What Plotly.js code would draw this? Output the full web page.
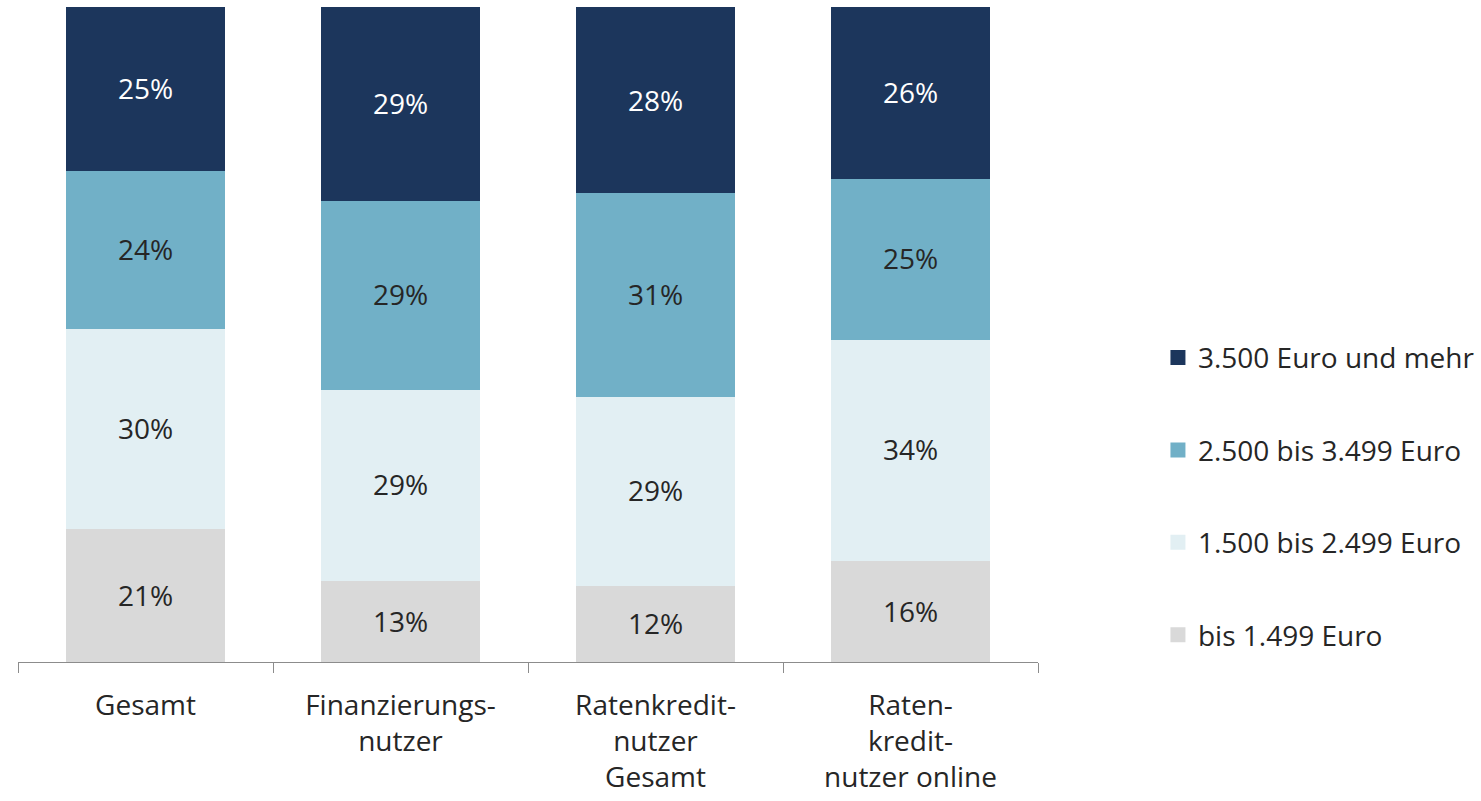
<!DOCTYPE html>
<html><head><meta charset="utf-8">
<script src="https://cdn.plot.ly/plotly-3.0.1.min.js"></script>
<style>html,body{margin:0;padding:0;background:#fff;}#chart{width:1481px;height:801px;}</style>
</head><body><div id="chart"></div>
<script>
const categories = ["Gesamt", "Finanzierungs-<br>nutzer", "Ratenkredit-<br>nutzer<br>Gesamt", "Raten-<br>kredit-<br>nutzer online"];
const seriesNames = ["bis 1.499 Euro", "1.500 bis 2.499 Euro", "2.500 bis 3.499 Euro", "3.500 Euro und mehr"];
const bis1499 = [20.6, 12.6, 11.8, 15.7];
const bis2499 = [30.4, 29.1, 28.9, 33.7];
const bis3499 = [24.2, 28.9, 31.1, 24.6];
const ab3500  = [24.8, 29.4, 28.1, 26.0];
const series = [bis1499, bis2499, bis3499, ab3500];
const colors = ["#d9d9d9", "#e2eff3", "#71b0c7", "#1c365c"];
const textColors = ["#262626", "#262626", "#262626", "#ffffff"];
const FONT = "Open Sans, sans-serif";
const FS = 28;

const traces = series.map((vals, i) => ({
  type: "bar",
  name: seriesNames[i],
  x: categories,
  y: vals,
  marker: {color: colors[i], line: {width: 3, color: colors[i]}},
  texttemplate: "%{y:.0f}%",
  textposition: "inside",
  insidetextanchor: "middle",
  textangle: 0,
  textfont: {family: FONT, size: FS, color: textColors[i]},
  legendgroup: "g" + i,
  legendrank: 100 - i,
  hoverinfo: "skip"
}));

const layout = {
  barmode: "stack",
  bargap: 0.392,
  width: 1481, height: 801,
  margin: {l: 18, r: 443, t: 7, b: 139, autoexpand: false},
  paper_bgcolor: "#fff", plot_bgcolor: "#fff",
  font: {family: FONT, size: FS, color: "#262626"},
  showlegend: true,
  legend: {
    x: 1.1176, xanchor: "left", y: 0.253, yanchor: "middle",
    traceorder: "grouped",
    tracegroupgap: 53,
    font: {family: FONT, size: FS, color: "#262626"},
    itemwidth: 30
  },
  xaxis: {
    type: "category",
    range: [-0.5, 3.5],
    showline: true, linecolor: "#8c8c8c", linewidth: 1,
    ticks: "outside", tickson: "boundaries", ticklen: 10, tickcolor: "#8c8c8c",
    ticklabelstandoff: 18,
    tickfont: {family: FONT, size: FS, color: "#262626"},
    showgrid: false, zeroline: false
  },
  yaxis: {
    range: [0, 100], visible: false, showgrid: false, zeroline: false
  },
  uniformtext: {mode: false}
};

Plotly.newPlot("chart", traces, layout, {displayModeBar: false, staticPlot: true});
</script>
</body></html>
